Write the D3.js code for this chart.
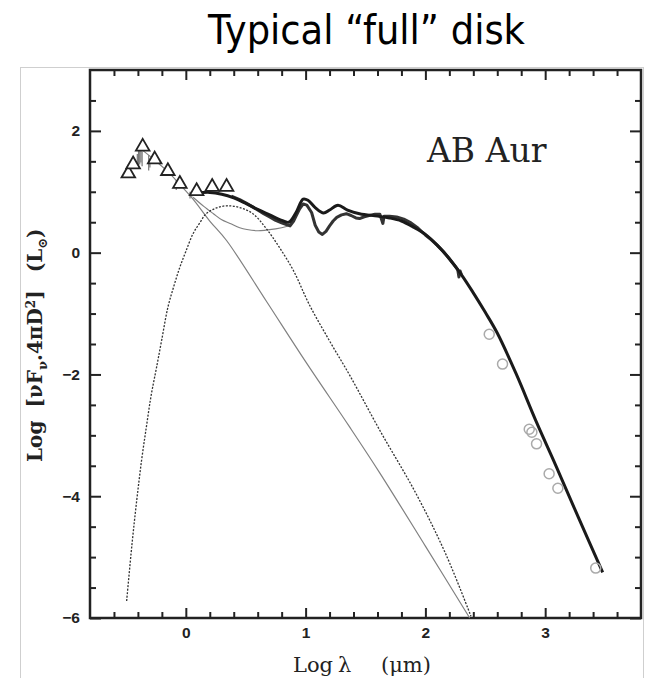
<!DOCTYPE html>
<html>
<head>
<meta charset="utf-8">
<script src="https://cdn.jsdelivr.net/npm/d3@7/dist/d3.min.js"></script>
<style>
  body { margin: 0; background: #fff; }
  svg { display: block; }
</style>
</head>
<body>
<svg id="chart" width="646" height="678"></svg>
<script>
// ---- Data: log wavelength (µm) vs log luminosity (L_sun) for AB Aur ----

// Optical / near-IR photometry (open triangles)
const triX = [-0.48, -0.44, -0.36, -0.26, -0.15, -0.05, 0.09, 0.22, 0.34];
const triY = [ 1.30,  1.45,  1.74,  1.53,  1.34,  1.13, 1.01, 1.08, 1.08];

// Sub-mm / mm photometry (open circles)
const mmX = [2.533, 2.644, 2.867, 2.889, 2.928, 3.033, 3.106, 3.422];
const mmY = [-1.34, -1.83, -2.90, -2.95, -3.14, -3.63, -3.87, -5.18];

// UV spectrum, drawn as short vertical strokes (low / high)
const uvX  = [-0.405, -0.395, -0.385, -0.375, -0.365, -0.310, -0.300, -0.080, -0.065, 0.035, 0.050];
const uvLo = [ 1.38,   1.40,   1.45,   1.48,   1.42,   1.35,   1.40,   1.03,   1.06,   0.89,  0.92];
const uvHi = [ 1.62,   1.68,   1.72,   1.70,   1.66,   1.60,   1.55,   1.19,   1.16,   1.00,  0.98];

// Stellar photosphere (thin grey line)
const starX = [-0.36, -0.26, -0.15, -0.05, 0.06, 0.20, 0.34, 0.67, 1.00, 1.37, 1.62, 2.00, 2.37];
const starY = [ 1.68,  1.52,  1.33,  1.12, 0.88, 0.52, 0.20, -0.79, -1.79, -2.87, -3.62, -4.82, -6.00];

// Star + inner rim (thin grey curve)
const rimSumX = [0.06, 0.15, 0.23, 0.30, 0.37, 0.45, 0.51, 0.60, 0.67, 0.75, 0.84, 0.88];
const rimSumY = [0.91, 0.76, 0.64, 0.54, 0.48, 0.41, 0.38, 0.36, 0.37, 0.39, 0.43, 0.46];

// Inner rim emission (dashed curve)
const rimX = [-0.494, -0.45, -0.41, -0.37, -0.33, -0.29, -0.244, -0.20, -0.15, -0.10, -0.05, 0.00, 0.06, 0.12, 0.17, 0.25, 0.34, 0.45, 0.56, 0.67, 0.78, 0.90, 1.03, 1.20, 1.37, 1.62, 1.92, 2.17, 2.38];
const rimY = [-5.72, -4.80, -4.07, -3.42, -2.87, -2.35, -1.88, -1.42, -0.90, -0.55, -0.24, 0.02, 0.31, 0.50, 0.64, 0.73, 0.77, 0.74, 0.64, 0.40, 0.09, -0.30, -0.85, -1.45, -2.02, -2.92, -3.95, -4.95, -5.97];

// Total model SED (thick black line)
const modelX = [0.09, 0.20, 0.30, 0.40, 0.50, 0.60, 0.70, 0.80, 0.86, 0.92, 0.98, 1.02, 1.08, 1.15, 1.20, 1.27, 1.35, 1.45, 1.60, 1.70, 1.80, 1.90, 2.00, 2.10, 2.20, 2.30, 2.40, 2.50, 2.60, 2.76, 2.92, 3.09, 3.28, 3.48];
const modelY = [0.98, 0.99, 0.96, 0.90, 0.81, 0.71, 0.62, 0.53, 0.50, 0.66, 0.88, 0.86, 0.74, 0.65, 0.70, 0.78, 0.70, 0.64, 0.60, 0.57, 0.52, 0.42, 0.30, 0.12, -0.10, -0.36, -0.66, -0.98, -1.32, -2.00, -2.75, -3.50, -4.36, -5.25];

// Infrared spectrum (noisy thick line)
const specX = [0.38, 0.45, 0.50, 0.55, 0.60, 0.65, 0.70, 0.75, 0.80, 0.84, 0.87, 0.90, 0.92, 0.95, 0.98, 1.01, 1.05, 1.08, 1.11, 1.14, 1.17, 1.20, 1.23, 1.26, 1.30, 1.34, 1.38, 1.42, 1.45, 1.49, 1.53, 1.58, 1.62, 1.645, 1.655, 1.67, 1.70, 1.76, 1.82, 1.88, 1.94, 2.00, 2.05, 2.10, 2.15, 2.20, 2.24, 2.27, 2.28, 2.29, 2.30];
const specY = [0.93, 0.87, 0.82, 0.76, 0.70, 0.64, 0.585, 0.53, 0.49, 0.46, 0.44, 0.52, 0.60, 0.72, 0.80, 0.78, 0.66, 0.45, 0.34, 0.30, 0.35, 0.44, 0.52, 0.58, 0.62, 0.64, 0.61, 0.57, 0.56, 0.59, 0.61, 0.63, 0.63, 0.48, 0.60, 0.60, 0.60, 0.585, 0.55, 0.49, 0.40, 0.29, 0.21, 0.12, 0.02, -0.10, -0.20, -0.28, -0.40, -0.30, -0.36];

// Axis ticks
const xTicks = [0, 1, 2, 3];
const yTicks = [-6, -4, -2, 0, 2];
const xMinorTicks = [-0.6, -0.4, -0.2, 0.2, 0.4, 0.6, 0.8, 1.2, 1.4, 1.6, 1.8, 2.2, 2.4, 2.6, 2.8, 3.2, 3.4, 3.6];
const yMinorTicks = [-5.5, -5, -4.5, -3.5, -3, -2.5, -1.5, -1, -0.5, 0.5, 1, 1.5, 2.5];

// ---- Layout ----
const svg = d3.select("#chart");
const plotLeft = 90, plotRight = 641, plotTop = 70, plotBottom = 618;

const x = d3.scaleLinear().domain([-0.8, 3.8]).range([plotLeft, plotRight]);
const y = d3.scaleLinear().domain([-6, 3]).range([plotBottom, plotTop]);

const ink = "#222";
const tickFont = "'Liberation Sans', Arial, sans-serif";
const serif = "'DejaVu Serif', 'Liberation Serif', serif";

// Faint border of the figure panel
svg.append("rect")
  .attr("x", 20.5).attr("y", 67.5).attr("width", 623).attr("height", 620)
  .attr("fill", "none").attr("stroke", "#cfcfcf").attr("stroke-width", 1);

// Title
svg.append("text")
  .attr("x", 208).attr("y", 44)
  .attr("textLength", 317).attr("lengthAdjust", "spacingAndGlyphs")
  .style("font-family", "'DejaVu Sans', Verdana, sans-serif")
  .style("font-size", "41px")
  .attr("fill", "#000")
  .text("Typical \u201Cfull\u201D disk");

// ---- Axes (inward ticks on all four sides) ----
function styleAxis(g) {
  g.select(".domain").remove();
  g.selectAll(".tick line").attr("stroke", ink).attr("stroke-width", 2);
  g.selectAll(".tick text")
    .style("font-family", tickFont).style("font-size", "15.5px")
    .style("font-weight", "bold").attr("fill", ink);
}

const fmt = d => d3.format("d")(d).replace("-", "\u2212");

svg.append("g").attr("transform", `translate(0,${plotBottom})`)
  .call(d3.axisBottom(x).tickValues(xTicks).tickSize(-10).tickPadding(9).tickFormat(fmt))
  .call(styleAxis);
svg.append("g").attr("transform", `translate(0,${plotBottom})`)
  .call(d3.axisBottom(x).tickValues(xMinorTicks).tickSize(-6).tickFormat(""))
  .call(styleAxis);
svg.append("g").attr("transform", `translate(0,${plotTop})`)
  .call(d3.axisTop(x).tickValues(xTicks).tickSize(-10).tickFormat(""))
  .call(styleAxis);
svg.append("g").attr("transform", `translate(0,${plotTop})`)
  .call(d3.axisTop(x).tickValues(xMinorTicks).tickSize(-6).tickFormat(""))
  .call(styleAxis);

svg.append("g").attr("transform", `translate(${plotLeft},0)`)
  .call(d3.axisLeft(y).tickValues(yTicks).tickSize(-11).tickPadding(10).tickFormat(fmt))
  .call(styleAxis);
svg.append("g").attr("transform", `translate(${plotLeft},0)`)
  .call(d3.axisLeft(y).tickValues(yMinorTicks).tickSize(-6).tickFormat(""))
  .call(styleAxis);
svg.append("g").attr("transform", `translate(${plotRight},0)`)
  .call(d3.axisRight(y).tickValues(yTicks).tickSize(-11).tickFormat(""))
  .call(styleAxis);
svg.append("g").attr("transform", `translate(${plotRight},0)`)
  .call(d3.axisRight(y).tickValues(yMinorTicks).tickSize(-6).tickFormat(""))
  .call(styleAxis);

// Plot frame
svg.append("rect")
  .attr("x", plotLeft).attr("y", plotTop)
  .attr("width", plotRight - plotLeft).attr("height", plotBottom - plotTop)
  .attr("fill", "none").attr("stroke", ink).attr("stroke-width", 2.5);

// ---- Curves ----
const zip = (xs, ys) => xs.map((v, i) => [v, ys[i]]);
const smooth = d3.line().x(d => x(d[0])).y(d => y(d[1])).curve(d3.curveCatmullRom.alpha(0.5));
const jagged = d3.line().x(d => x(d[0])).y(d => y(d[1]));

const plot = svg.append("g");

// Stellar photosphere
plot.append("path").attr("d", smooth(zip(starX, starY)))
  .attr("fill", "none").attr("stroke", "#808080").attr("stroke-width", 1.2);

// Star + rim
plot.append("path").attr("d", smooth(zip(rimSumX, rimSumY)))
  .attr("fill", "none").attr("stroke", "#808080").attr("stroke-width", 1.2);

// Inner rim (dashed)
plot.append("path").attr("d", smooth(zip(rimX, rimY)))
  .attr("fill", "none").attr("stroke", "#333").attr("stroke-width", 1.3)
  .attr("stroke-dasharray", "2,1.5");

// UV spectrum strokes
plot.selectAll("line.uv").data(uvX.map((v, i) => ({x: v, lo: uvLo[i], hi: uvHi[i]})))
  .join("line").attr("class", "uv")
  .attr("x1", d => x(d.x)).attr("x2", d => x(d.x))
  .attr("y1", d => y(d.lo)).attr("y2", d => y(d.hi))
  .attr("stroke", "#777").attr("stroke-width", 1.2);

// Infrared spectrum
plot.append("path").attr("d", jagged(zip(specX, specY)))
  .attr("fill", "none").attr("stroke", "#333").attr("stroke-width", 3)
  .attr("stroke-linejoin", "round");

// Total model
plot.append("path").attr("d", smooth(zip(modelX, modelY)))
  .attr("fill", "none").attr("stroke", "#1a1a1a").attr("stroke-width", 3);

// Triangles
const tri = d3.symbol().type(d3.symbolTriangle).size(80);
plot.selectAll("path.tri").data(zip(triX, triY))
  .join("path").attr("class", "tri")
  .attr("transform", d => `translate(${x(d[0])},${y(d[1])})`)
  .attr("d", tri)
  .attr("fill", "#fff").attr("stroke", "#222").attr("stroke-width", 1.8);

// Circles
plot.selectAll("circle.mm").data(zip(mmX, mmY))
  .join("circle").attr("class", "mm")
  .attr("cx", d => x(d[0])).attr("cy", d => y(d[1])).attr("r", 5)
  .attr("fill", "none").attr("stroke", "#aaa").attr("stroke-width", 1.5);

// Object label
svg.append("text")
  .attr("x", 427).attr("y", 162)
  .style("font-family", serif).style("font-size", "33px")
  .attr("fill", ink)
  .text("AB Aur");

// X axis title
const xt = svg.append("text")
  .attr("y", 672)
  .style("font-family", serif).style("font-size", "21px").attr("fill", ink);
xt.append("tspan").attr("x", 293).text("Log");
xt.append("tspan").attr("x", 338).text("\u03BB");
xt.append("tspan").attr("x", 381).text("(\u03BCm)");

// Y axis title (rotated)
const yt = svg.append("text")
  .attr("transform", "translate(42,462) rotate(-90)")
  .style("font-family", serif).style("font-size", "20px")
  .style("font-weight", "bold").attr("fill", ink);
yt.append("tspan").text("Log");
yt.append("tspan").attr("dx", 13).text("[\u03BDF");
yt.append("tspan").attr("dy", 5).style("font-size", "13px").text("\u03BD");
yt.append("tspan").attr("dy", -5).text(".4\u03C0D");
yt.append("tspan").attr("dy", -7).style("font-size", "12px").text("2");
yt.append("tspan").attr("dy", 7).text("]");
yt.append("tspan").attr("dx", 18).text("(L");
yt.append("tspan").attr("dy", 5).style("font-size", "13px").text("\u2299");
yt.append("tspan").attr("dy", -5).text(")");
</script>
</body>
</html>
